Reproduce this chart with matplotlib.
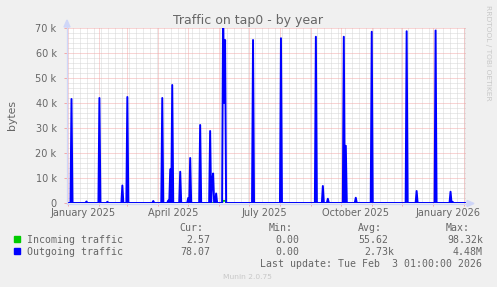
import matplotlib
matplotlib.use("Agg")
import matplotlib.pyplot as plt
import matplotlib.transforms as mtransforms
from matplotlib.lines import Line2D
from matplotlib.patches import Rectangle, Polygon
import pandas as pd

W, H = 497, 287

title = "Traffic on tap0 - by year"
y_label = "bytes"
y_ticks = [0, 10000, 20000, 30000, 40000, 50000, 60000, 70000]
y_tick_labels = ["0", "10 k", "20 k", "30 k", "40 k", "50 k", "60 k", "70 k"]
x_label_dates = ["2025-01-16", "2025-04-16", "2025-07-16", "2025-10-16", "2026-01-16"]
x_labels = ["January 2025", "April 2025", "July 2025", "October 2025", "January 2026"]

range_start = "2024-12-30 12:00"
range_end = "2026-02-03 12:00"

out_dates = ["2025-01-04", "2025-01-19", "2025-02-01", "2025-02-09", "2025-02-24",
             "2025-03-01", "2025-03-27", "2025-04-05", "2025-04-11", "2025-04-13",
             "2025-04-15", "2025-04-23", "2025-05-01", "2025-05-03", "2025-05-13",
             "2025-05-23", "2025-05-25", "2025-05-26", "2025-05-29", "2025-06-05",
             "2025-06-06", "2025-06-07", "2025-07-05", "2025-08-02", "2025-09-06",
             "2025-09-13", "2025-09-18", "2025-10-04", "2025-10-06", "2025-10-16",
             "2025-11-01", "2025-12-06", "2025-12-16", "2026-01-04", "2026-01-19",
             "2026-01-21"]
out_values = [41600, 600, 42000, 500, 7000,
              42400, 800, 42000, 1000, 13500,
              47200, 12500, 2000, 18000, 31200,
              28800, 9000, 11800, 3800, 80000,
              40000, 65200, 65200, 65900, 66500,
              6800, 1700, 66500, 22900, 2100,
              68500, 68700, 4800, 69000, 4500,
              500]

in_dates = ["2025-04-05", "2025-05-23", "2025-06-05", "2025-06-06", "2025-06-07",
            "2025-07-05", "2025-09-06", "2025-10-04", "2025-11-01"]
in_values = [500, 400, 900, 900, 900,
             500, 600, 600, 500]

out_color = "#0000ff"
in_color = "#00cc00"
font_color = "#666666"


def fx(x):
    return x / W


def fy(y):
    return 1 - y / H


fig = plt.figure(figsize=(W / 100, H / 100), dpi=100, facecolor="#f0f0f0")
ax = fig.add_axes([fx(67), fy(203), (466 - 67) / W, (203 - 28) / H])
ax.set_facecolor("#ffffff")

xmin = pd.Timestamp(range_start)
xmax = pd.Timestamp(range_end)
ax.set_xlim(xmin, xmax)
ax.set_ylim(0, 70000)

# grid
grid_kw = dict(lw=0.72, ls=(0, (1, 1)), zorder=1)
minor_col = "#d6d6d6"
major_col = "#f2aaaa"
for v in range(0, 70001, 2000):
    if v % 10000:
        ax.axhline(v, color=minor_col, **grid_kw)
weeks = pd.date_range(xmin, xmax, freq="W-SUN")
for d in weeks:
    ax.axvline(d, color=minor_col, **grid_kw)
for v in y_ticks[1:]:
    ax.axhline(v, color=major_col, **grid_kw)
months = pd.date_range("2025-01-01", xmax, freq="MS")
for d in months:
    ax.axvline(d, color=major_col, **grid_kw)

# data
days = pd.date_range("2024-12-29", "2026-02-04", freq="D")
out_series = pd.Series(0.0, index=days)
out_series[pd.to_datetime(out_dates)] = out_values
in_series = pd.Series(0.0, index=days)
in_series[pd.to_datetime(in_dates)] = in_values

ax.plot(in_series.index, in_series.values, color=in_color, lw=1.2, zorder=3)
ax.plot(out_series.index, out_series.values, color=out_color, lw=1.4, zorder=4)

ax.axvline(xmax, color="#a0a0a0", lw=1.0, zorder=5)

for s in ax.spines.values():
    s.set_visible(False)

ax.set_yticks(y_ticks)
ax.set_yticklabels(y_tick_labels)
ax.tick_params(axis="y", length=2, width=0.72, color=major_col, pad=5.5,
               labelsize=7, labelcolor=font_color)
ax.set_xticks(months)
ax.set_xticklabels([])
ax.tick_params(axis="x", length=2, width=0.72, color=major_col)

blend = mtransforms.blended_transform_factory(ax.transData, fig.transFigure)
for d, lab in zip(x_label_dates, x_labels):
    ax.text(pd.Timestamp(d), fy(215.5), lab, transform=blend,
            ha="center", va="baseline", fontsize=7, color=font_color)

# axes lines and arrows
axis_col = "#cfd6f8"
fig.add_artist(Line2D([fx(67), fx(67)], [fy(203), fy(25)], color=axis_col, lw=0.9,
                      transform=fig.transFigure, zorder=2))
fig.add_artist(Line2D([fx(67), fx(468)], [fy(203.5), fy(203.5)], color=axis_col, lw=0.9,
                      transform=fig.transFigure, zorder=2))
fig.add_artist(Polygon([[fx(64), fy(27)], [fx(70), fy(27)], [fx(67), fy(20)]],
                       closed=True, color=axis_col, transform=fig.transFigure))
fig.add_artist(Polygon([[fx(467), fy(200.5)], [fx(467), fy(206.5)], [fx(474), fy(203.5)]],
                       closed=True, color=axis_col, transform=fig.transFigure))

# texts
fig.text(fx(248), fy(24), title, ha="center", va="baseline", fontsize=9, color=font_color)
fig.text(fx(12), fy(115), y_label, ha="center", va="center", rotation=90,
         fontsize=7.8, color=font_color)
fig.text(fx(488), fy(5), "RRDTOOL / TOBI OETIKER", ha="center", va="top", rotation=270,
         fontsize=5.4, color="#c8c8c8")

mono = dict(family="DejaVu Sans Mono", fontsize=7.1, color=font_color, va="baseline")
headers = ["Cur:", "Min:", "Avg:", "Max:"]
header_right = [203, 293, 382, 470]
for t, xr in zip(headers, header_right):
    fig.text(fx(xr), fy(231), t, ha="right", **mono)

legend_names = ["Incoming traffic", "Outgoing traffic"]
legend_colors = [in_color, out_color]
cur_vals = ["2.57", "78.07"]
min_vals = ["0.00", "0.00"]
avg_vals = ["55.62", "2.73k"]
max_vals = ["98.32k", "4.48M"]
col_right_unit = [216, 305, 394, 483]
rows_y = [243, 255]
for i in range(2):
    y = rows_y[i]
    fig.add_artist(Rectangle((fx(14), fy(y - 1)), 6 / W, 6 / H, color=legend_colors[i],
                             transform=fig.transFigure))
    fig.text(fx(27), fy(y), legend_names[i], ha="left", **mono)
    for vals, xr in zip([cur_vals, min_vals, avg_vals, max_vals], col_right_unit):
        v = vals[i]
        if v[-1].isalpha():
            fig.text(fx(xr), fy(y), v, ha="right", **mono)
        else:
            fig.text(fx(xr - 6), fy(y), v, ha="right", **mono)

fig.text(fx(482), fy(267), "Last update: Tue Feb  3 01:00:00 2026", ha="right", **mono)
fig.text(fx(247.5), fy(279), "Munin 2.0.75", ha="center", va="baseline", fontsize=5.4,
         color="#c8c8c8")

fig.savefig("out.png", dpi=100, facecolor=fig.get_facecolor())
